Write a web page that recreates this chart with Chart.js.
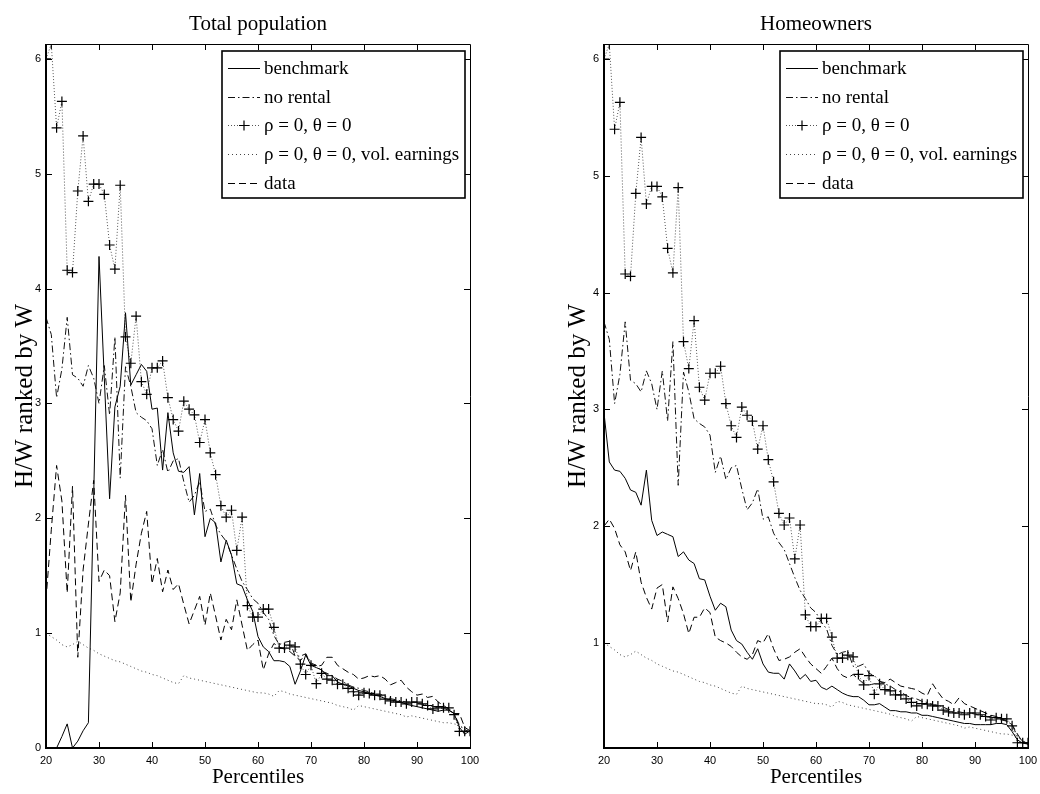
<!DOCTYPE html>
<html>
<head>
<meta charset="utf-8">
<script src="https://cdn.jsdelivr.net/npm/chart.js@4.4.1/dist/chart.umd.min.js"></script>
<style>
  html, body { margin: 0; padding: 0; background: #fff; }
  #wrap { position: relative; width: 1040px; height: 794px; }
  canvas { position: absolute; top: 0; }
  #total { left: 0; }
  #owners { left: 520px; }
</style>
</head>
<body>
<div id="wrap">
  <canvas id="total" width="520" height="794"></canvas>
  <canvas id="owners" width="520" height="794"></canvas>
</div>
<script>
const percentiles = [
  20, 21, 22, 23, 24, 25, 26, 27, 28, 29, 30, 31, 32, 33, 34, 35, 36, 37, 38, 39,
  40, 41, 42, 43, 44, 45, 46, 47, 48, 49, 50, 51, 52, 53, 54, 55, 56, 57, 58, 59,
  60, 61, 62, 63, 64, 65, 66, 67, 68, 69, 70, 71, 72, 73, 74, 75, 76, 77, 78, 79,
  80, 81, 82, 83, 84, 85, 86, 87, 88, 89, 90, 91, 92, 93, 94, 95, 96, 97, 98, 99, 100
];
const xTicks = [20, 30, 40, 50, 60, 70, 80, 90, 100];

// shared by both panels
const noRental = [
  3.75, 3.6, 3.05, 3.3, 3.75, 3.25, 3.22, 3.15, 3.33, 3.22, 3.0, 3.33, 2.9, 3.58, 2.35, 3.32, 3.15, 2.92, 2.88, 2.85,
  2.78, 2.46, 2.6, 2.4, 2.5, 2.52, 2.32, 2.14, 2.2, 2.32, 2.06, 2.08, 1.94, 1.86, 1.8, 1.68, 1.56, 1.45, 1.38, 1.3,
  1.26, 1.18, 1.12, 0.98, 0.9, 0.92, 0.93, 0.8, 0.8, 0.82, 0.74, 0.72, 0.67, 0.65, 0.63, 0.6, 0.58, 0.55, 0.53, 0.52,
  0.5, 0.49, 0.47, 0.47, 0.45, 0.43, 0.42, 0.41, 0.4, 0.4, 0.39, 0.38, 0.37, 0.36, 0.35, 0.34, 0.33, 0.3, 0.2, 0.16, 0.14
];
const rhoZero = [
  6.0, 6.13, 5.4, 5.63, 4.16, 4.14, 4.85, 5.33, 4.76, 4.91, 4.91, 4.82, 4.38, 4.17, 4.9, 3.58, 3.35, 3.76, 3.19, 3.08,
  3.31, 3.31, 3.37, 3.05, 2.86, 2.76, 3.02, 2.95, 2.9, 2.66, 2.86, 2.57, 2.38, 2.11, 2.01, 2.07, 1.72, 2.01, 1.24, 1.14,
  1.14, 1.21, 1.21, 1.05, 0.87, 0.87, 0.895, 0.88, 0.73, 0.64, 0.72, 0.56, 0.65, 0.6, 0.59, 0.555, 0.555, 0.52, 0.49, 0.46,
  0.48, 0.475, 0.46, 0.46, 0.425, 0.41, 0.4, 0.4, 0.385, 0.4, 0.4, 0.385, 0.37, 0.34, 0.36, 0.35, 0.35, 0.29, 0.145, 0.145, 0.145
];
const volEarnings = [
  1.0, 0.97, 0.94, 0.9, 0.88, 0.9, 0.93, 0.9, 0.87, 0.85, 0.82, 0.8, 0.78, 0.76, 0.75, 0.73, 0.71, 0.69, 0.67, 0.66,
  0.64, 0.63, 0.61, 0.59, 0.57, 0.56, 0.63, 0.61, 0.6, 0.59, 0.58, 0.57, 0.56, 0.55, 0.54, 0.53, 0.52, 0.51, 0.5, 0.49,
  0.48, 0.48, 0.47, 0.45, 0.5, 0.49, 0.47, 0.46, 0.45, 0.44, 0.43, 0.42, 0.41, 0.4, 0.39, 0.37, 0.36, 0.35, 0.33, 0.37,
  0.36, 0.35, 0.34, 0.33, 0.32, 0.31, 0.3, 0.29, 0.27, 0.28, 0.27, 0.26, 0.25, 0.24, 0.23, 0.22, 0.22, 0.21, 0.2, 0.15, 0.12
];

// total population
const benchmarkTotal = [
  0, 0, 0, 0.1, 0.21, 0.0, 0.06, 0.15, 0.22, 2.2, 4.28, 3.22, 2.17, 2.97, 3.15, 3.79, 3.16, 3.25, 3.34, 3.28,
  2.95, 2.96, 2.42, 2.92, 2.57, 2.41, 2.4, 2.45, 2.03, 2.39, 1.84, 2.0, 1.96, 1.62, 1.81, 1.68, 1.43, 1.41, 1.29, 1.19,
  0.97, 0.88, 0.84, 0.76, 0.76, 0.75, 0.71, 0.555, 0.67, 0.81, 0.72, 0.7, 0.68, 0.63, 0.63, 0.575, 0.555, 0.54, 0.52, 0.5,
  0.49, 0.47, 0.46, 0.45, 0.43, 0.42, 0.41, 0.4, 0.38, 0.37, 0.36, 0.35, 0.34, 0.33, 0.32, 0.33, 0.33, 0.3, 0.18, 0.12, 0.15
];
const dataTotal = [
  1.29, 1.9, 2.46, 2.15, 1.35, 2.28, 0.79, 1.55, 1.95, 2.33, 1.45, 1.55, 1.5, 1.1, 1.35, 2.2, 1.27, 1.6, 1.87, 2.06,
  1.43, 1.65, 1.36, 1.55, 1.38, 1.43, 1.25, 1.08, 1.2, 1.32, 1.07, 1.35, 1.15, 0.94, 1.12, 1.03, 1.29, 1.07, 0.85, 0.9,
  0.94, 0.68, 0.82, 0.91, 0.88, 0.86, 0.84, 0.8, 0.76, 0.82, 0.73, 0.71, 0.72, 0.79, 0.79, 0.72, 0.69, 0.66, 0.64, 0.6,
  0.61, 0.63, 0.62, 0.63, 0.6, 0.55, 0.57, 0.59, 0.53, 0.49, 0.46, 0.47, 0.44, 0.45, 0.4, 0.37, 0.34, 0.3, 0.3, 0.18, 0.15
];

// homeowners
const benchmarkOwners = [
  2.97, 2.55, 2.48, 2.47, 2.41, 2.31, 2.29, 2.18, 2.48, 2.05, 1.92, 1.95, 1.93, 1.91, 1.74, 1.78, 1.71, 1.68, 1.55, 1.54,
  1.4, 1.28, 1.34, 1.31, 1.11, 1.02, 0.99, 0.92, 0.86, 0.95, 0.82, 0.75, 0.74, 0.74, 0.69, 0.82, 0.76, 0.69, 0.73, 0.67,
  0.68, 0.62, 0.6, 0.63, 0.6, 0.57, 0.55, 0.54, 0.54, 0.51, 0.47, 0.47, 0.48, 0.45, 0.42, 0.42, 0.41, 0.41, 0.4, 0.4,
  0.38, 0.38, 0.37, 0.36, 0.35, 0.34, 0.33, 0.32, 0.31, 0.31, 0.3, 0.3, 0.3, 0.3, 0.31, 0.31, 0.3, 0.24, 0.17, 0.14, 0.14
];
const dataOwners = [
  2.0, 2.06, 1.98, 1.84, 1.78, 1.62, 1.78, 1.52, 1.39, 1.29, 1.47, 1.5, 1.18, 1.48, 1.38, 1.25, 1.08, 1.22, 1.22, 1.3,
  1.26, 1.05, 1.02, 1.0, 0.97, 0.92, 0.88, 0.86, 0.9, 1.02, 1.0, 1.08, 0.95, 0.85, 0.86, 0.88, 0.92, 0.95, 0.88, 0.82,
  0.78, 0.74, 0.8, 0.87, 0.78, 0.72, 0.7, 0.73, 0.69, 0.65, 0.64, 0.65, 0.67, 0.66, 0.69, 0.66, 0.63, 0.62, 0.61, 0.6,
  0.57, 0.55, 0.65, 0.58, 0.52, 0.5, 0.47, 0.53, 0.48, 0.46, 0.44, 0.42, 0.4, 0.38, 0.37, 0.35, 0.33, 0.3, 0.22, 0.15, 0.13
];

const serif = "'Liberation Serif', 'Times New Roman', serif";
const sans = "'Liberation Sans', Arial, sans-serif";

const toPoints = (values) => values.map((v, i) => ({ x: percentiles[i], y: v }));

const makeDatasets = (benchmark, data) => [
  { label: 'benchmark', data: toPoints(benchmark), borderColor: '#000', borderWidth: 1, pointRadius: 0 },
  { label: 'no rental', data: toPoints(noRental), borderColor: '#111', borderWidth: 1, borderDash: [7, 3, 1.5, 3], pointRadius: 0 },
  {
    label: 'ρ = 0, θ = 0', data: toPoints(rhoZero), borderColor: '#555', borderWidth: 1, borderDash: [1, 2],
    pointStyle: 'cross', pointRadius: 5, pointBorderColor: '#000', pointBorderWidth: 1.2
  },
  { label: 'ρ = 0, θ = 0, vol. earnings', data: toPoints(volEarnings), borderColor: '#444', borderWidth: 1, borderDash: [1, 3], pointRadius: 0 },
  { label: 'data', data: toPoints(data), borderColor: '#000', borderWidth: 1, borderDash: [7, 4], pointRadius: 0 }
];

// box round the plot with inward ticks on all four sides
const matlabFrame = {
  id: 'matlabFrame',
  afterDatasetsDraw: (chart) => {
    const { ctx, chartArea: a, scales: { x, y } } = chart;
    ctx.save();
    ctx.setLineDash([]);
    ctx.strokeStyle = '#000';
    ctx.lineWidth = 1;
    ctx.beginPath();
    ctx.moveTo(a.left, a.top + 0.5);
    ctx.lineTo(a.right + 0.5, a.top + 0.5);
    ctx.lineTo(a.right + 0.5, a.bottom);
    ctx.stroke();
    ctx.lineWidth = 2;
    ctx.beginPath();
    ctx.moveTo(a.left, a.top);
    ctx.lineTo(a.left, a.bottom);
    ctx.lineTo(a.right + 1, a.bottom);
    ctx.stroke();

    ctx.lineWidth = 1;
    ctx.beginPath();
    x.ticks.forEach((t) => {
      const px = Math.round(x.getPixelForValue(t.value)) + 0.5;
      if (px < a.left + 2 || px > a.right - 2) return;
      ctx.moveTo(px, a.bottom);
      ctx.lineTo(px, a.bottom - 6);
      ctx.moveTo(px, a.top);
      ctx.lineTo(px, a.top + 6);
    });
    y.ticks.forEach((t) => {
      const py = Math.round(y.getPixelForValue(t.value)) + 0.5;
      if (py < a.top + 2 || py > a.bottom - 2) return;
      ctx.moveTo(a.left, py);
      ctx.lineTo(a.left + 6, py);
      ctx.moveTo(a.right, py);
      ctx.lineTo(a.right - 6, py);
    });
    ctx.stroke();
    ctx.restore();
  }
};

// legend in a box at the upper right of the plot
const boxLegend = {
  id: 'boxLegend',
  afterDraw: (chart) => {
    const { ctx, chartArea: a } = chart;
    const w = 243;
    const h = 147;
    const left = a.right - 5 - w;
    const top = a.top + 7;
    ctx.save();
    ctx.fillStyle = '#fff';
    ctx.fillRect(left, top, w, h);
    ctx.strokeStyle = '#000';
    ctx.lineWidth = 1.6;
    ctx.setLineDash([]);
    ctx.strokeRect(left, top, w, h);

    ctx.font = `19px ${serif}`;
    ctx.textBaseline = 'middle';
    chart.data.datasets.forEach((ds, i) => {
      const yy = Math.round(top + 17 + i * 28.7) + 0.5;
      ctx.strokeStyle = ds.borderColor;
      ctx.lineWidth = 1;
      ctx.setLineDash(ds.borderDash || []);
      ctx.beginPath();
      ctx.moveTo(left + 6, yy);
      ctx.lineTo(left + 38, yy);
      ctx.stroke();
      if (ds.pointRadius) {
        ctx.setLineDash([]);
        ctx.strokeStyle = '#000';
        ctx.lineWidth = 1.2;
        ctx.beginPath();
        ctx.moveTo(left + 22 - ds.pointRadius, yy);
        ctx.lineTo(left + 22 + ds.pointRadius, yy);
        ctx.moveTo(left + 22, yy - ds.pointRadius);
        ctx.lineTo(left + 22, yy + ds.pointRadius);
        ctx.stroke();
      }
      ctx.fillStyle = '#000';
      ctx.fillText(ds.label, left + 42, yy + 1);
    });
    ctx.restore();
  }
};

const makeChart = (canvasId, title, benchmark, data, yMin, yAxisWidth, yTitlePad, rightPad) => {
  return new Chart(document.getElementById(canvasId), {
    type: 'line',
    data: { datasets: makeDatasets(benchmark, data) },
    options: {
      responsive: false,
      animation: false,
      layout: { padding: { left: 0, top: 0, right: rightPad, bottom: 0 } },
      elements: { line: { tension: 0 } },
      plugins: {
        legend: { display: false },
        tooltip: { enabled: false },
        title: {
          display: true,
          text: title,
          fullSize: false,
          color: '#000',
          font: { family: serif, size: 21, weight: 'normal' },
          padding: { top: 11.4, bottom: 7.4 }
        }
      },
      scales: {
        x: {
          type: 'linear',
          min: 20,
          max: 100,
          afterBuildTicks: (s) => { s.ticks = xTicks.map((v) => ({ value: v })); },
          afterFit: (s) => { s.height = 46; s.paddingLeft = 0; s.paddingRight = 0; },
          grid: { display: false, drawTicks: false },
          border: { display: false },
          ticks: { color: '#000', font: { family: sans, size: 11 }, padding: 6, maxRotation: 0, autoSkip: false },
          title: {
            display: true,
            text: 'Percentiles',
            color: '#000',
            font: { family: serif, size: 21 },
            padding: { top: 0, bottom: 4.4 }
          }
        },
        y: {
          min: yMin,
          max: 6.13,
          afterFit: (s) => { s.width = yAxisWidth; s.paddingTop = 0; s.paddingBottom = 0; },
          grid: { display: false, drawTicks: false },
          border: { display: false },
          ticks: { stepSize: 1, includeBounds: false, color: '#000', font: { family: sans, size: 11 }, padding: 5 },
          title: {
            display: true,
            text: 'H/W ranked by W',
            color: '#000',
            font: { family: serif, size: 25 },
            padding: { top: yTitlePad, bottom: 0 }
          }
        }
      }
    },
    plugins: [matlabFrame, boxLegend]
  });
};

makeChart('total', 'Total population', benchmarkTotal, dataTotal, 0, 46, 10, 50);
makeChart('owners', 'Homeowners', benchmarkOwners, dataOwners, 0.1, 84, 43, 12);
</script>
</body>
</html>
